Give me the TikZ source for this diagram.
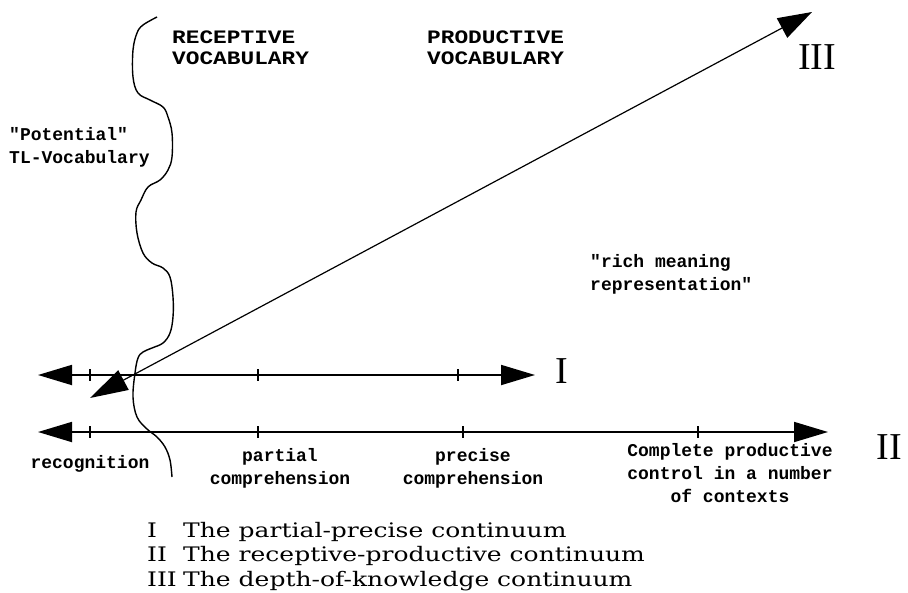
\documentclass[tikz,border=0pt]{standalone}
\usepackage{fontspec}
\setmainfont{Liberation Serif}
\newfontfamily\pixfont{Liberation Mono}
\newfontfamily\capsfont{Liberation Mono}[FakeStretch=1.2]
\newfontfamily\legfont{DejaVu Serif}[FakeStretch=1.25]
\usetikzlibrary{arrows.meta}

\begin{document}
\begin{tikzpicture}[x=1pt,y=-1pt,
    axis/.style={line width=1.8pt,{Triangle[length=34pt,width=20pt]}-{Triangle[length=34pt,width=20pt]}},
    depth/.style={line width=1.2pt,{Triangle[length=38pt,width=22pt]}-{Triangle[length=34pt,width=22pt]}},
    tick/.style={line width=1.2pt},
    lbl/.style={font=\pixfont\bfseries\fontsize{18}{23}\selectfont,align=center,inner sep=0pt},
    capslbl/.style={font=\capsfont\bfseries\fontsize{19}{21}\selectfont,align=left,inner sep=0pt,anchor=north west},
    numeral/.style={font=\fontsize{38}{38}\selectfont,inner sep=0pt}]
    \useasboundingbox (0,0) rectangle (908,592);

    % the three axes
    \coordinate (Ia) at (38,375);
    \coordinate (Ib) at (535,375);
    \coordinate (IIa) at (38,432);
    \coordinate (IIb) at (828,432);
    \coordinate (IIIa) at (90,398);
    \coordinate (IIIb) at (812,12);
    \draw[axis] (Ia) -- (Ib);
    \draw[axis] (IIa) -- (IIb);
    \draw[depth] (IIIa) -- (IIIb);
    \draw[tick] (90,369) -- (90,381) (258,369) -- (258,381) (458,369) -- (458,381);
    \draw[tick] (90,426) -- (90,438) (258,426) -- (258,438) (463,426) -- (463,438) (698,426) -- (698,438);

    % wavy brace
    \draw[line width=1.4pt] plot[smooth,tension=0.6] coordinates {
        (157,17) (143,25) (137,33) (133,50) (133,77) (138,93) (150,100) (163,107)
        (168,117) (172,133) (172,157) (168,170) (160,180) (148,187) (141,200)
        (136,212) (137,233) (143,253) (152,263) (163,268) (170,277) (173,297)
        (173,317) (170,333) (163,343) (152,348) (143,352) (138,358) (135,373)
        (133,397) (137,417) (147,429) (157,437) (165,447) (170,460) (172,477)};

    \node[numeral] (labI) at (562,371) {I};
    \node[numeral] (labII) at (889,447) {II};
    \node[numeral] (labIII) at (817,57) {III};

    \node[capslbl] (recvoc) at (172,31) {RECEPTIVE\\VOCABULARY};
    \node[capslbl] (prodvoc) at (427,31) {PRODUCTIVE\\VOCABULARY};
    \node[lbl,align=left,anchor=north west] (potential) at (9,127) {"Potential"\\TL-Vocabulary};
    \node[lbl,align=left,anchor=north west] (rich) at (590,254) {"rich meaning\\representation"};

    \node[lbl] (recog) at (90,464) {recognition};
    \node[lbl,anchor=north] (partial) at (280,448) {partial\\comprehension};
    \node[lbl,anchor=north] (precise) at (473,448) {precise\\comprehension};
    \node[lbl,anchor=north] (complete) at (730,443) {Complete productive\\control in a number\\of contexts};

    % key to the axes
    \node[font=\legfont\fontsize{20}{24.5}\selectfont,align=left,inner sep=0pt,anchor=north west] (key) at (147,522) {
        \makebox[36pt][l]{I}The partial-precise continuum\\
        \makebox[36pt][l]{II}The receptive-productive continuum\\
        \makebox[36pt][l]{III}The depth-of-knowledge continuum};
\end{tikzpicture}
\end{document}
